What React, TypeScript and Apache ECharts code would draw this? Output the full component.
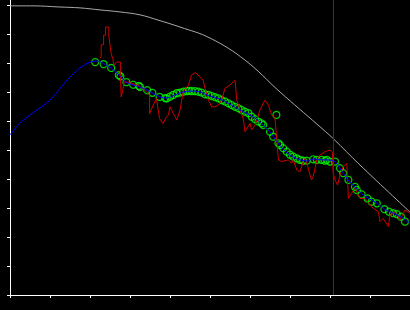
import React, { useEffect, useRef } from "react";
import * as echarts from "echarts";

// Envelope (gray) curve
const envX = [0, 5.75, 12.5, 17.5, 22.5, 27.5, 32.5, 37, 42.5, 50, 58.75, 67.5, 77, 80.75, 87.5, 100];
const envY = [99.7, 99.7, 99.3, 99.0, 98.3, 97.6, 96.6, 94.8, 92.4, 88.6, 81.0, 70.0, 58.6, 54, 44.8, 28.6];

// Trend (blue) line
const trendX = [0, 2.5, 5.75, 10, 14.25, 17.5, 20, 21.75, 23.5, 25.25, 27.5, 29, 30.75, 32.5, 34.25, 35.5, 37.5, 39, 41.25, 43.25, 44.75, 46.25, 47.5, 50, 52.5, 54.5, 57.5, 59.5, 61.25, 63.25, 65, 67, 69, 70.75, 72.5, 74.25, 75.75, 78, 79.25, 81.25, 83.25, 84.5, 86.25, 88, 89.5, 91.75, 93.5, 95.75, 97.75, 100];
const trendY = [55.2, 59.3, 62.8, 67.2, 74.1, 78.3, 80.3, 80.7, 79.7, 78.3, 75.5, 73.4, 72.4, 71.7, 70.7, 69.7, 68.3, 67.9, 69.0, 70.0, 70.3, 70.3, 70.0, 68.6, 67.6, 66.2, 63.8, 62.4, 61.0, 58.6, 56.2, 52.4, 49.3, 47.6, 46.6, 46.2, 46.9, 46.6, 46.6, 45.9, 42.1, 39.7, 37.2, 34.8, 33.4, 31.7, 29.7, 28.3, 26.9, 24.8];

// Observed (red) series
const obsX = [22.5, 22.8, 22.8, 23.4, 23.4, 23.9, 23.9, 24.7, 24.7, 25, 25.3, 25.7, 26, 26.6, 27.6, 27.6, 27.8, 28.25, 28.5, 29.5, 32, 33.8, 34.9, 34.9, 35.75, 36.6, 37.4, 38.25, 39.1, 39.6, 40, 40.8, 41.7, 42.5, 43.3, 44.6, 45.4, 46.4, 47.4, 48.3, 48.75, 49.6, 50.4, 51.25, 52.1, 52.9, 53.75, 55, 56.25, 56.7, 57.5, 58.3, 58.75, 60, 60.4, 61.25, 61.7, 62.5, 63.3, 63.75, 64.6, 65.4, 66.25, 66.7, 67.1, 67.9, 69.6, 70.4, 70.8, 71.7, 72.5, 73.3, 73.75, 74.2, 75, 75.4, 75.8, 76.7, 77.5, 78.75, 80, 80.6, 80.8, 81.25, 81.9, 82.5, 83.3, 84.2, 84.6, 85.4, 86.25, 87.5, 88.75, 90.4, 92.1, 92.5, 93.3, 94.6, 95, 96.25, 97.5, 98.75, 100];
const obsY = [81.7, 82.1, 86.3, 86.3, 89.6, 89.6, 92.4, 92.4, 89.6, 86.1, 83.2, 81.5, 79.2, 80.3, 80.3, 75.8, 68.3, 71.1, 73.4, 73.4, 72.3, 70.6, 68.9, 62.5, 65.4, 67.7, 60.8, 59.1, 61.4, 62.1, 64.9, 62.7, 60.3, 63.8, 70.1, 72.4, 75.9, 76.7, 75.3, 74.1, 71.3, 67.2, 64.9, 64.9, 65.5, 67.2, 71.3, 72.4, 74.1, 67.2, 63.8, 60.9, 56.3, 59.2, 56.9, 58.6, 60.3, 63.8, 66.1, 67.2, 65.5, 62.1, 60.9, 53.4, 46.6, 46.0, 46.6, 45.4, 46.6, 43.1, 42.5, 46.0, 47.1, 45.4, 41.4, 39.7, 40.8, 46.6, 48.3, 49.4, 50.0, 49.1, 42.0, 39.7, 37.9, 41.4, 44.2, 45.4, 33.3, 35.1, 36.8, 33.3, 33.3, 30.4, 28.7, 25.3, 26.4, 23.6, 27.6, 28.7, 25.9, 29.3, 28.2];

// Fitted points (green circles)
const fitX = [21.3, 23.4, 25.3, 27.2, 27.6, 29.1, 30.8, 32.2, 32.5, 34.3, 35.6, 37.4, 38.8, 39.2, 40, 40.8, 41.7, 42.5, 43.3, 44.2, 44.75, 45.4, 46.25, 47.1, 47.9, 48.75, 49.6, 50.4, 51.25, 52.1, 52.9, 53.75, 54.6, 55.4, 56.25, 57.1, 57.9, 58.75, 59.6, 60.4, 61.25, 62.1, 62.9, 63.3, 65, 65.8, 67.1, 67.5, 68.3, 69.2, 70, 70.8, 71.7, 72.5, 73.3, 74.2, 75.8, 76.7, 77.9, 78.75, 79.2, 80, 81.25, 82.5, 83.3, 84.6, 86.25, 86.7, 87.9, 89.4, 90.4, 91.7, 93.6, 94.75, 95.8, 96.7, 97.75, 98.75, 66.6];
const fitY = [80.3, 79.6, 78.3, 75.8, 75.4, 73.4, 72.5, 72.1, 71.7, 70.6, 69.7, 68.3, 67.9, 67.8, 68.4, 69.0, 69.6, 69.8, 70.1, 70.3, 70.4, 70.3, 70.3, 70.1, 69.8, 69.2, 69.0, 68.6, 68.2, 67.8, 67.2, 66.7, 66.1, 65.5, 64.9, 64.4, 63.8, 63.2, 62.7, 61.5, 60.6, 59.8, 59.2, 58.6, 56.3, 54.6, 52.3, 51.7, 50.6, 49.4, 48.4, 47.7, 47.1, 46.6, 46.3, 46.3, 46.8, 46.6, 46.6, 46.3, 46.6, 46.0, 46.0, 43.7, 42.0, 39.7, 37.3, 36.2, 34.7, 33.3, 32.2, 31.6, 29.6, 28.7, 28.2, 27.9, 27.0, 25.3, 62.1];

const markerX = 80.8;
const yTicks = [0, 10, 20, 30, 40, 50, 60, 70, 80, 90, 100];

const zip = (xs: number[], ys: number[]) => xs.map((x, i) => [x, ys[i]]);

export default function App() {
  const ref = useRef<HTMLDivElement>(null);
  useEffect(() => {
    if (!ref.current) return;
    const chart = echarts.init(ref.current, undefined, { renderer: "svg" });
    chart.setOption({
      animation: false,
      backgroundColor: "#000000",
      grid: { left: 10, right: 0, top: 0, bottom: 15 },
      xAxis: {
        type: "value",
        min: 0,
        max: 100,
        interval: 10,
        axisLine: { show: true, lineStyle: { color: "#ffffff", width: 1 } },
        axisTick: { show: true, length: 3, lineStyle: { color: "#ffffff", width: 1 } },
        axisLabel: { show: false },
        splitLine: { show: false },
      },
      yAxis: {
        type: "value",
        min: 0,
        max: 101.72,
        interval: 10,
        axisLine: { show: true, lineStyle: { color: "#ffffff", width: 1 } },
        axisTick: { show: true, length: 3, customValues: yTicks, lineStyle: { color: "#ffffff", width: 1 } },
        axisLabel: { show: false, customValues: yTicks },
        splitLine: { show: false },
      },
      series: [
        {
          type: "line",
          data: zip(envX, envY),
          smooth: 0.4,
          symbol: "none",
          lineStyle: { color: "#a8a8a8", width: 1 },
          silent: true,
          markLine: {
            silent: true,
            symbol: "none",
            label: { show: false },
            lineStyle: { color: "#800080", width: 1, type: "solid" },
            data: [{ xAxis: markerX }],
          },
        },
        {
          type: "line",
          data: zip(obsX, obsY),
          symbol: "none",
          lineStyle: { color: "#cc0000", width: 1 },
          silent: true,
        },
        {
          type: "line",
          data: zip(trendX, trendY),
          smooth: 0.3,
          symbol: "none",
          lineStyle: { color: "#0000ff", width: 1 },
          silent: true,
        },
        {
          type: "scatter",
          data: zip(fitX, fitY),
          symbol: "circle",
          symbolSize: 7,
          itemStyle: { color: "rgba(0,0,0,0)", borderColor: "#00ff00", borderWidth: 1.2 },
          silent: true,
        },
      ],
    });
    return () => chart.dispose();
  }, []);
  return (
    <div
      ref={ref}
      style={{ position: "absolute", left: 0, top: 0, width: 410, height: 310 }}
    />
  );
}
